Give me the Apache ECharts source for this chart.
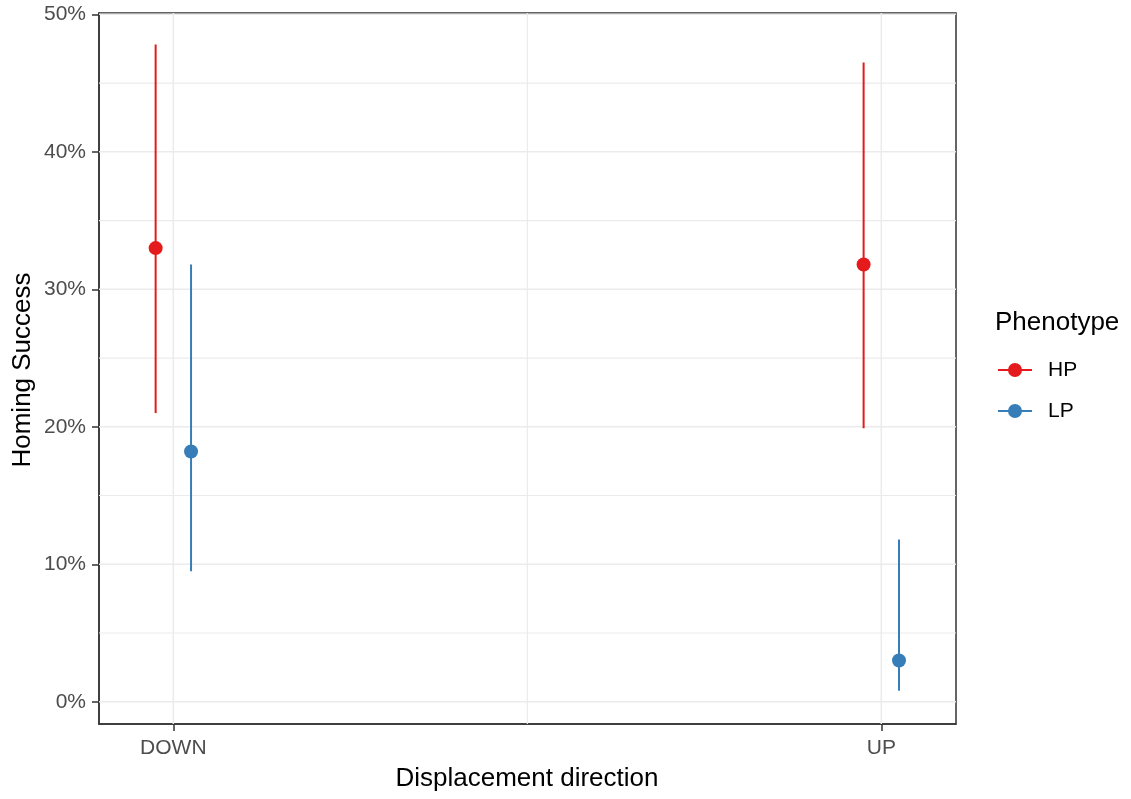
<!DOCTYPE html>
<html>
<head>
<meta charset="utf-8">
<script src="https://cdn.jsdelivr.net/npm/echarts@6/dist/echarts.min.js"></script>
<style>html,body{margin:0;padding:0;background:#fff}#chart{width:1131px;height:799px}</style>
</head>
<body>
<div id="chart"></div>
<script>
// ---- data ----
const categories = ['DOWN', 'UP'];
const phenotypes = ['HP', 'LP'];
const hpMean  = [0.330, 0.318];
const hpLower = [0.210, 0.199];
const hpUpper = [0.478, 0.465];
const lpMean  = [0.182, 0.030];
const lpLower = [0.095, 0.008];
const lpUpper = [0.318, 0.118];
const yTickValues = [0, 0.1, 0.2, 0.3, 0.4, 0.5];
const xTitle = 'Displacement direction';
const yTitle = 'Homing Success';
const legendTitle = 'Phenotype';

// ---- styling ----
const FONT = 'Liberation Sans, Arial, sans-serif';
const colors = { HP: '#E41A1C', LP: '#377EB8' };
const dodge = { HP: -0.025, LP: 0.025 };
const catPos = categories.map((c, i) => i + 1);

const stats = {
  HP: { mean: hpMean, lower: hpLower, upper: hpUpper },
  LP: { mean: lpMean, lower: lpLower, upper: lpUpper }
};

// gridline positions
const yMajor = yTickValues;
const yMinor = yTickValues.slice(0, -1).map((v, i) => (v + yTickValues[i + 1]) / 2);
const xMajor = catPos;
const xMinor = catPos.slice(0, -1).map((v, i) => (v + catPos[i + 1]) / 2);

const XMIN = 0.895, XMAX = 2.1055, YMIN = -0.0162, YMAX = 0.501;

const gridLineData = [];
yMajor.forEach(v => gridLineData.push([XMIN, v, 0, 1.5]));
yMinor.forEach(v => gridLineData.push([XMIN, v, 0, 1.2]));
xMajor.forEach(v => gridLineData.push([v, YMIN, 1, 1.5]));
xMinor.forEach(v => gridLineData.push([v, YMIN, 1, 1.2]));

const legendIcon = 'path://M0,6H11V8H0Z M23,6H34V8H23Z M24,7A7,7 0 1,1 10,7A7,7 0 1,1 24,7Z';

const series = [{
  type: 'custom',
  name: '_grid',
  silent: true,
  z: 1,
  data: gridLineData,
  renderItem: function (params, api) {
    const cs = params.coordSys;
    const vertical = api.value(2) === 1;
    const lw = api.value(3);
    if (vertical) {
      const p = api.coord([api.value(0), YMIN]);
      return { type: 'line', shape: { x1: p[0], y1: cs.y, x2: p[0], y2: cs.y + cs.height },
               style: { stroke: '#EBEBEB', lineWidth: lw } };
    } else {
      const p = api.coord([XMIN, api.value(1)]);
      return { type: 'line', shape: { x1: cs.x, y1: p[1], x2: cs.x + cs.width, y2: p[1] },
               style: { stroke: '#EBEBEB', lineWidth: lw } };
    }
  }
}];

phenotypes.forEach(ph => {
  const s = stats[ph];
  series.push({
    type: 'custom',
    name: ph,
    z: 3,
    itemStyle: { color: colors[ph] },
    data: catPos.map((x, i) => [x + dodge[ph], s.lower[i], s.upper[i]]),
    renderItem: function (params, api) {
      const p1 = api.coord([api.value(0), api.value(1)]);
      const p2 = api.coord([api.value(0), api.value(2)]);
      return { type: 'line', shape: { x1: p1[0], y1: p1[1], x2: p2[0], y2: p2[1] },
               style: { stroke: colors[ph], lineWidth: 2 } };
    }
  });
  series.push({
    type: 'scatter',
    name: ph,
    z: 4,
    symbol: 'circle',
    symbolSize: 14,
    itemStyle: { color: colors[ph], opacity: 1 },
    data: catPos.map((x, i) => [x + dodge[ph], s.mean[i]])
  });
});

const chart = echarts.init(document.getElementById('chart'), null, { renderer: 'canvas' });
chart.setOption({
  animation: false,
  backgroundColor: '#ffffff',
  textStyle: { fontFamily: FONT },
  grid: { left: 99, right: 175, top: 13, bottom: 75, show: true,
          borderColor: '#333333', borderWidth: 1.5, backgroundColor: '#ffffff' },
  xAxis: {
    type: 'value', min: XMIN, max: XMAX,
    splitLine: { show: false },
    axisLine: { show: true, onZero: false, lineStyle: { color: '#333333', width: 1.5 } },
    axisTick: { show: true, customValues: catPos, length: 7, lineStyle: { color: '#333333', width: 1.5 } },
    axisLabel: { customValues: catPos, margin: 14, fontSize: 21, color: '#4D4D4D', fontFamily: FONT,
                 formatter: v => categories[Math.round(v) - 1] }
  },
  yAxis: {
    type: 'value', min: YMIN, max: YMAX,
    splitLine: { show: false },
    axisLine: { show: true, onZero: false, lineStyle: { color: '#333333', width: 1.5 } },
    axisTick: { show: true, customValues: yTickValues, length: 7, lineStyle: { color: '#333333', width: 1.5 } },
    axisLabel: { customValues: yTickValues, margin: 13, fontSize: 21, color: '#4D4D4D', fontFamily: FONT,
                 padding: [5, 0, 0, 0],
                 formatter: v => Math.round(v * 100) + '%' }
  },
  legend: {
    orient: 'vertical', left: 998, top: 359.5, padding: 0,
    itemWidth: 34, itemHeight: 14, itemGap: 20,
    selectedMode: false,
    data: phenotypes.map(ph => ({ name: ph, icon: legendIcon, itemStyle: { color: colors[ph] } })),
    textStyle: { fontSize: 21, color: '#000000', fontFamily: FONT, padding: [0, 0, 0, 11] }
  },
  graphic: [
    { type: 'text', x: 527, y: 779, style: { text: xTitle, font: '26px ' + FONT, fill: '#000',
      textAlign: 'center', textVerticalAlign: 'middle' } },
    { type: 'text', x: 22.5, y: 370, rotation: Math.PI / 2, style: { text: yTitle, font: '26px ' + FONT, fill: '#000',
      textAlign: 'center', textVerticalAlign: 'middle' } },
    { type: 'text', x: 995, y: 322.5, style: { text: legendTitle, font: '26px ' + FONT, fill: '#000',
      textAlign: 'left', textVerticalAlign: 'middle' } }
  ],
  series: series
});
</script>
</body>
</html>
